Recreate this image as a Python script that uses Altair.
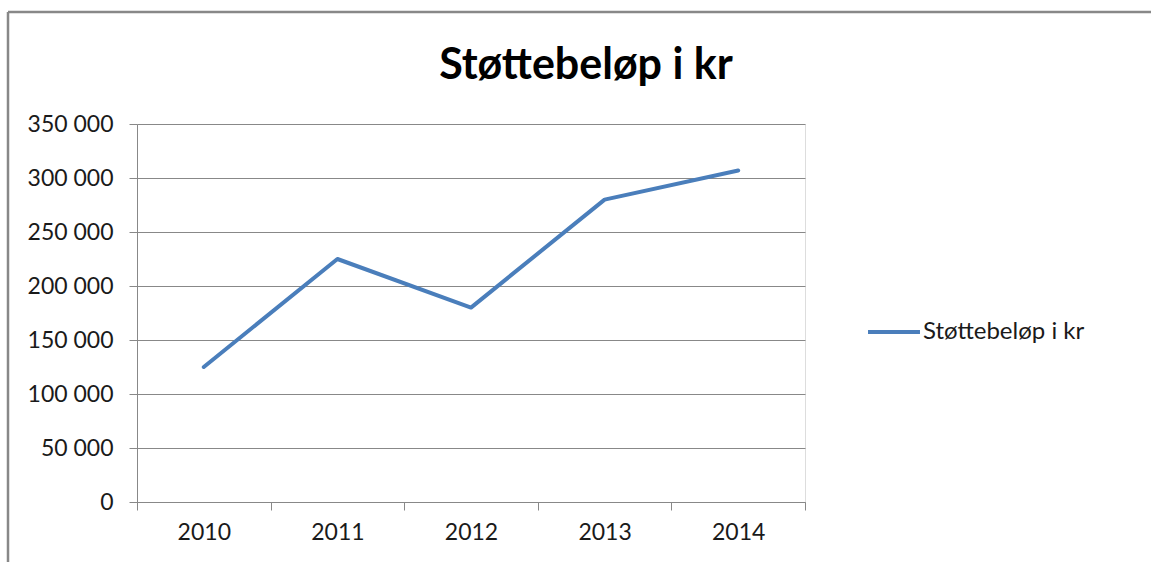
import altair as alt
import pandas as pd

years = ["2010", "2011", "2012", "2013", "2014"]
values = [125000, 225000, 180000, 280000, 307000]
series_name = "Støttebeløp i kr"
chart_title = "Støttebeløp i kr"
y_ticks = [0, 50000, 100000, 150000, 200000, 250000, 300000, 350000]

df = pd.DataFrame({"År": years, "Beløp": values, "Serie": [series_name] * len(years)})
one = pd.DataFrame({"t": [chart_title]})

W, H = 668, 378
PL, PT = 137, 124
FONT = "Lato"
GRAY = "#888888"

frame_top = alt.Chart(one).mark_rule(color=GRAY, strokeWidth=2.5).encode(
    x=alt.value(8 - PL), x2=alt.value(1151 - PL + 10), y=alt.value(12 - PT)
)
frame_left = alt.Chart(one).mark_rule(color=GRAY, strokeWidth=2.5).encode(
    x=alt.value(8 - PL), y=alt.value(12 - PT), y2=alt.value(562 - PT + 10)
)
title = alt.Chart(one).mark_text(
    font=FONT, fontSize=43, fontWeight="bold", color="black",
    align="center", baseline="alphabetic",
).encode(text="t:N", x=alt.value(586 - PL), y=alt.value(79 - PT))

line = alt.Chart(df).mark_line(strokeWidth=4, strokeCap="round", strokeJoin="round").encode(
    x=alt.X(
        "År:N",
        scale=alt.Scale(type="band", paddingInner=0, paddingOuter=0),
        axis=alt.Axis(
            title=None, labelAngle=0, tickBand="extent", grid=False,
            domainColor=GRAY, tickColor=GRAY, tickSize=8,
            labelFontSize=23, labelFont=FONT, labelColor="#1a1a1a", labelPadding=11,
        ),
    ),
    y=alt.Y(
        "Beløp:Q",
        scale=alt.Scale(domain=[0, 350000]),
        axis=alt.Axis(
            title=None, values=y_ticks,
            labelExpr="replace(format(datum.value, ','), ',', ' ')",
            grid=True, gridColor=GRAY, domainColor=GRAY, tickColor=GRAY, tickSize=8,
            labelFontSize=23, labelFont=FONT, labelColor="#1a1a1a", labelPadding=16,
        ),
    ),
    color=alt.Color(
        "Serie:N",
        scale=alt.Scale(range=["#4A7EBB"]),
        legend=alt.Legend(
            title=None, orient="none", legendX=729, legendY=180,
            symbolType="stroke", symbolSize=2700, symbolStrokeWidth=4,
            labelFontSize=24, labelFont=FONT, labelColor="#1a1a1a", labelOffset=1,
            labelLimit=400,
        ),
    ),
)

chart = alt.layer(frame_top, frame_left, title, line).properties(
    width=W, height=H,
    autosize=alt.AutoSizeParams(type="none"),
    padding={"left": PL, "top": PT, "right": 1151 - PL - W, "bottom": 562 - PT - H},
).configure_view(stroke=None).configure(background="white")

chart.save("out.html", embed_options={"renderer": "svg", "actions": False})
